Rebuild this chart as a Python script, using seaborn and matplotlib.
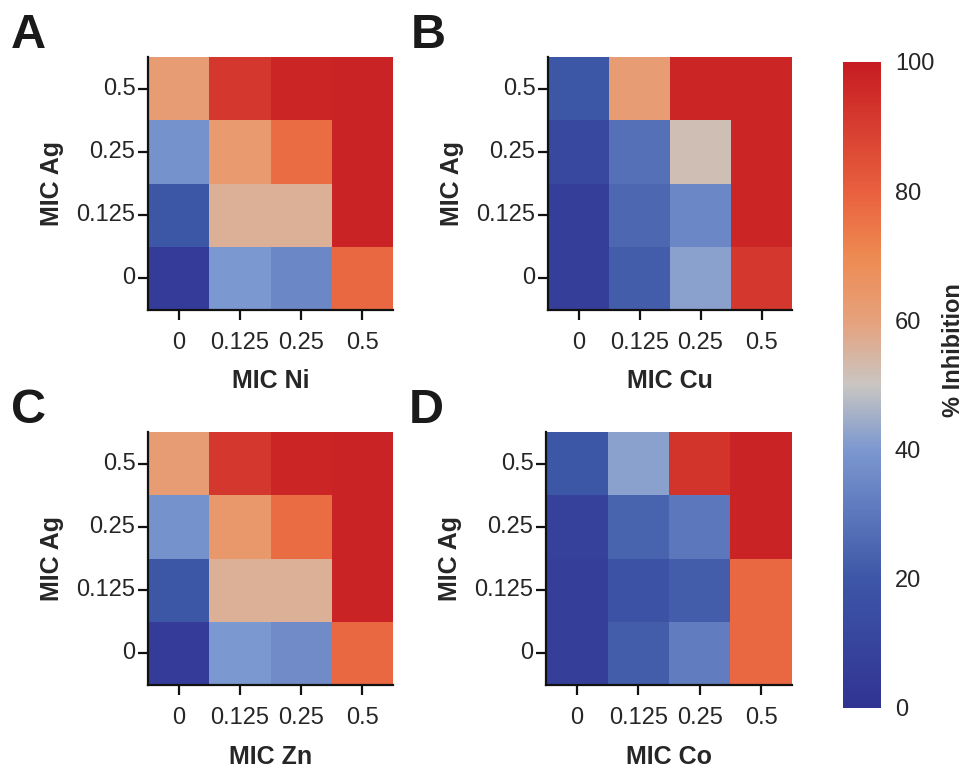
import numpy as np
import pandas as pd
import matplotlib
matplotlib.use("Agg")
import matplotlib.pyplot as plt
import seaborn as sns
from matplotlib.colors import LinearSegmentedColormap

sns.set_style("white")
plt.rcParams['font.family'] = ['Liberation Sans', 'DejaVu Sans']

ag_levels = ["0.5", "0.25", "0.125", "0"]
x_levels = ["0", "0.125", "0.25", "0.5"]

# rows: MIC Ag 0.5, 0.25, 0.125, 0 ; cols: metal 0, 0.125, 0.25, 0.5
ni_vals = [[62, 92, 97, 98],
           [38, 63, 77, 98],
           [20, 56, 56, 98],
           [5, 40, 35, 78]]
cu_vals = [[20, 62, 97, 97],
           [12, 28, 52, 97],
           [6, 25, 35, 97],
           [6, 22, 42, 92]]
zn_vals = [[62, 92, 97, 98],
           [38, 64, 77, 98],
           [20, 56, 56, 98],
           [5, 40, 36, 78]]
co_vals = [[20, 42, 93, 98],
           [8, 24, 30, 98],
           [6, 18, 22, 78],
           [6, 22, 32, 78]]

panels = [("A", "MIC Ni", ni_vals), ("B", "MIC Cu", cu_vals),
          ("C", "MIC Zn", zn_vals), ("D", "MIC Co", co_vals)]

cmap = LinearSegmentedColormap.from_list("inh", [
    (0.00, "#313393"),
    (0.20, "#3d57a7"),
    (0.40, "#7c98d0"),
    (0.50, "#c9c6c2"),
    (0.60, "#e6a17c"),
    (0.70, "#ee8a52"),
    (0.80, "#e8603e"),
    (1.00, "#c71c22"),
])

fig = plt.figure(figsize=(9.69, 7.69), dpi=100)
W, H = 969, 769
boxes = [(148, 57, 393, 310), (548, 57, 792, 310),
         (148, 432, 393, 685), (546, 432, 792, 685)]
cax = fig.add_axes([843 / W, 1 - 708 / H, 38 / W, 646 / H])

for i, ((letter, xlabel, vals), (x0, y0, x1, y1)) in enumerate(zip(panels, boxes)):
    ax = fig.add_axes([x0 / W, 1 - y1 / H, (x1 - x0) / W, (y1 - y0) / H])
    df = pd.DataFrame(vals, index=ag_levels, columns=x_levels)
    sns.heatmap(df, ax=ax, cmap=cmap, vmin=0, vmax=100,
                cbar=(i == 0), cbar_ax=cax if i == 0 else None,
                linewidths=0)
    ax.set_aspect("auto")
    for s in ["left", "bottom"]:
        ax.spines[s].set_visible(True)
        ax.spines[s].set_linewidth(1.6)
        ax.spines[s].set_color("#111111")
    for s in ["top", "right"]:
        ax.spines[s].set_visible(False)
    ax.tick_params(axis="both", which="major", direction="out", length=7,
                   width=1.6, color="#111111", labelsize=17,
                   bottom=True, left=True)
    ax.tick_params(axis="x", pad=9)
    ax.tick_params(axis="y", pad=2)
    ax.set_yticklabels(ag_levels, rotation=0)
    ax.set_xticklabels(x_levels, rotation=0)
    ax.set_xlabel(xlabel, fontsize=18, fontweight="bold", labelpad=11)
    ax.set_ylabel("MIC Ag", fontsize=18, fontweight="bold", labelpad=9)
    fig.text((x0 - 137) / W, 1 - (y0 - 22) / H, letter, fontsize=35,
             fontweight="bold", va="center", ha="left", color="#1a1a1a")

cax.set_yticks([0, 20, 40, 60, 80, 100])
cax.tick_params(length=0, labelsize=17, pad=10)
for s in cax.spines.values():
    s.set_visible(False)
cax.set_ylabel("")
fig.text(953 / W, 1 - 350 / H, "% Inhibition", fontsize=17, fontweight="bold",
         rotation=90, ha="center", va="center")

fig.savefig("out.png", dpi=100, facecolor="white")
